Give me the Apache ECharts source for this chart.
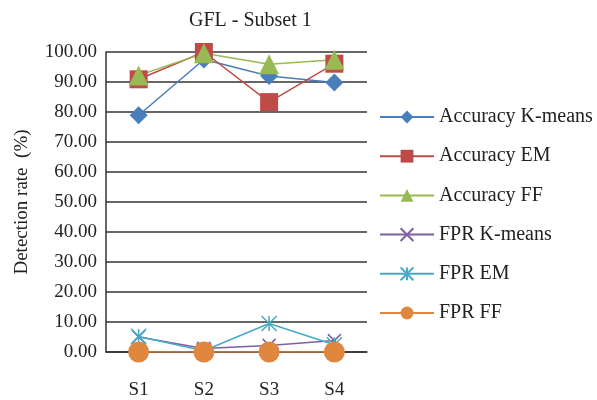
<!DOCTYPE html>
<html>
<head>
<meta charset="utf-8">
<script src="https://cdn.jsdelivr.net/npm/echarts@6/dist/echarts.min.js"></script>
<style>
  html, body { margin: 0; padding: 0; background: #fff; }
  #chart { width: 597px; height: 400px; }
</style>
</head>
<body>
<div id="chart"></div>
<script>
var categories = ['S1', 'S2', 'S3', 'S4'];
var accKmeans = [78.9, 97.5, 92.0, 89.8];
var accEM = [90.9, 100.0, 83.3, 96.1];
var accFF = [92.2, 99.6, 95.9, 97.4];
var fprKmeans = [5.0, 1.2, 2.2, 3.8];
var fprEM = [5.2, 0.4, 9.5, 2.4];
var fprFF = [0, 0, 0, 0];

var font = 'Liberation Serif';
var xPath = 'path://M0,0L10,10M10,0L0,10';
var starPath = 'path://M5,0L5,10M0,0L10,10M10,0L0,10';

function mk(name, data, color, symbol, size, extra) {
    var s = {
        name: name,
        type: 'line',
        data: data,
        symbol: symbol,
        symbolSize: size,
        lineStyle: { color: color, width: 1.5 },
        itemStyle: { color: color },
        emphasis: { disabled: true }
    };
    if (extra) {
        s.itemStyle = { color: 'none', borderColor: color, borderWidth: 1.5 };
    }
    return s;
}

var chart = echarts.init(document.getElementById('chart'));
chart.setOption({
    animation: false,
    title: {
        text: 'GFL - Subset 1',
        left: 184,
        top: 6,
        textStyle: { fontFamily: font, fontSize: 20, fontWeight: 'normal', color: '#222' }
    },
    legend: {
        orient: 'vertical',
        left: 374,
        top: 102,
        itemWidth: 54,
        itemHeight: 16,
        itemGap: 19.2,
        textStyle: { fontFamily: font, fontSize: 20, color: '#222' },
        data: ['Accuracy K-means', 'Accuracy EM', 'Accuracy FF', 'FPR K-means', 'FPR EM', 'FPR FF']
    },
    grid: { left: 106, right: 230, top: 52, bottom: 44 },
    xAxis: {
        type: 'category',
        data: categories,
        axisTick: { show: false },
        axisLine: { lineStyle: { color: '#333', width: 1.5 } },
        axisLabel: { margin: 29, fontFamily: font, fontSize: 19, color: '#222' }
    },
    yAxis: {
        type: 'value',
        min: 0,
        max: 100,
        interval: 10,
        name: 'Detection rate  (%)',
        nameLocation: 'middle',
        nameGap: 74,
        nameTextStyle: { fontFamily: font, fontSize: 19, color: '#222' },
        axisLine: { show: true, lineStyle: { color: '#333', width: 1.5 } },
        axisTick: { show: false },
        splitLine: { lineStyle: { color: '#333', width: 1.5 } },
        axisLabel: {
            margin: 9,
            fontFamily: font,
            fontSize: 19,
            color: '#222',
            formatter: function (v) { return v.toFixed(2); }
        }
    },
    series: [
        mk('Accuracy K-means', accKmeans, '#4a7ebb', 'diamond', 18),
        mk('Accuracy EM', accEM, '#be4b48', 'rect', 18),
        mk('Accuracy FF', accFF, '#98b954', 'triangle', 20),
        mk('FPR K-means', fprKmeans, '#7d60a0', xPath, 13, true),
        mk('FPR EM', fprEM, '#46aac5', starPath, 15, true),
        mk('FPR FF', fprFF, '#e0873f', 'circle', 21)
    ]
});
</script>
</body>
</html>
